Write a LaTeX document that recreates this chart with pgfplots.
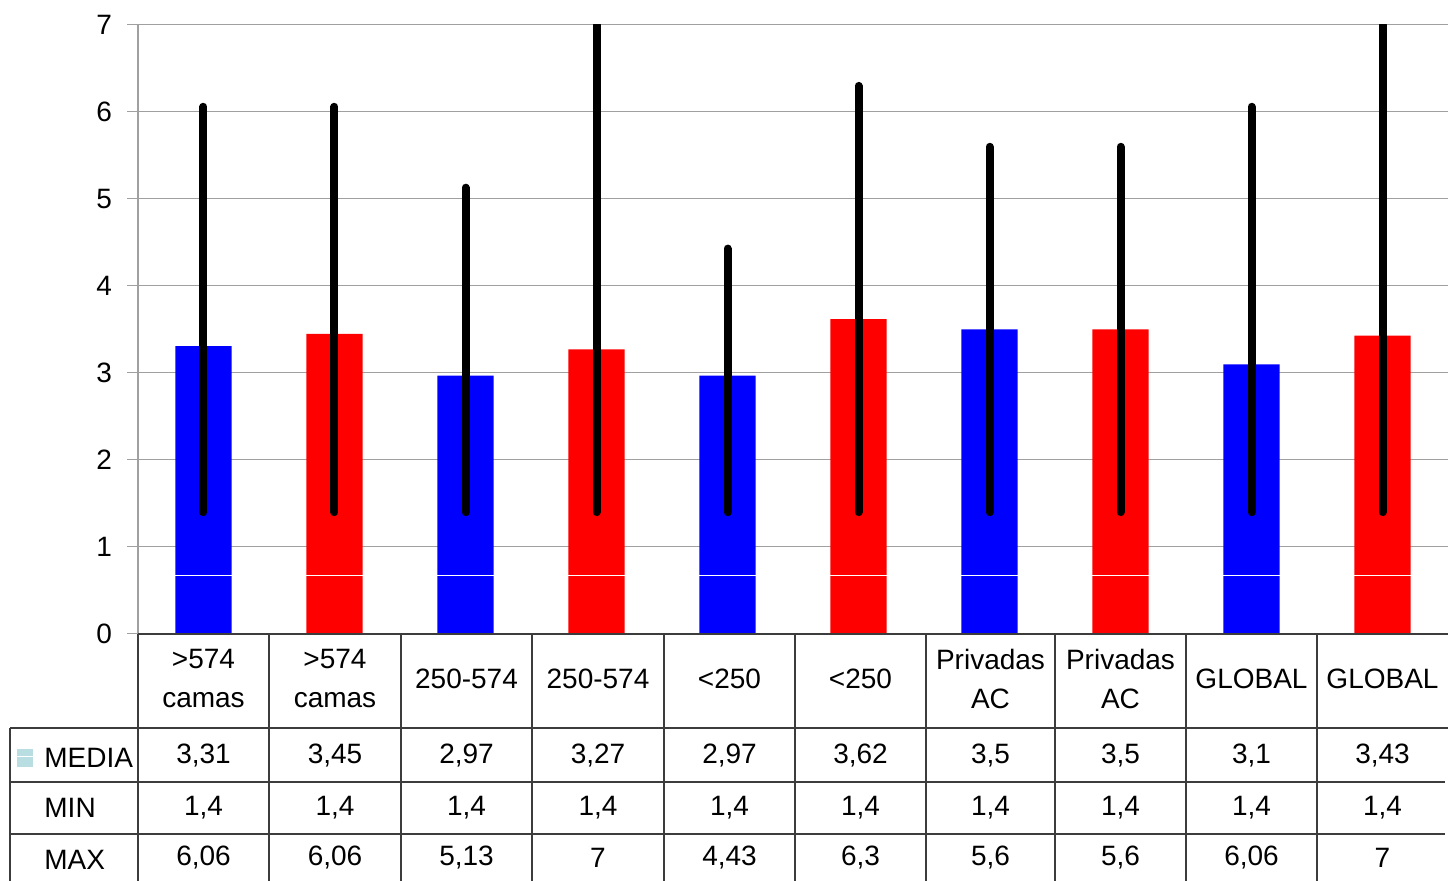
\documentclass[border=0pt]{standalone}
\usepackage{pgfplots}
\pgfplotsset{compat=1.18}
\usepackage{fontspec}
\setmainfont{Liberation Sans}
\definecolor{gridgray}{RGB}{160,160,160}
\definecolor{tabline}{RGB}{60,60,60}
\definecolor{legcol}{RGB}{185,222,226}
\begin{document}
\begin{tikzpicture}
\begin{axis}[
  name=ax,
  scale only axis,
  width=655pt, height=304.5pt,
  xmin=0, xmax=10, ymin=0, ymax=7,
  axis y line*=left, axis x line=none,
  xtick=\empty,
  ytick={0,1,2,3,4,5,6,7},
  ymajorgrids,
  grid style={gridgray, line width=0.5pt},
  y axis line style={gridgray, line width=0.6pt},
  ytick style={gridgray, line width=0.5pt},
  tick align=outside,
  major tick length=5.5pt,
  tick label style={font=\fontsize{14}{16}\selectfont},
  yticklabel style={xshift=-4pt},
  /pgf/number format/assume math mode=true,
  unbounded coords=jump,
  clip=true,
]
\addplot[ybar, bar width=0.43, bar shift=0pt, fill=blue, draw=none]
  coordinates {(0.5,3.31) (2.5,2.97) (4.5,2.97) (6.5,3.5) (8.5,3.1)};
\addplot[ybar, bar width=0.43, bar shift=0pt, fill=red, draw=none]
  coordinates {(1.5,3.45) (3.5,3.27) (5.5,3.62) (7.5,3.5) (9.5,3.43)};
\addplot[white, line width=0.6pt, forget plot] coordinates {
  (0.285,0.67) (0.715,0.67) (1,nan)
  (1.285,0.67) (1.715,0.67) (2,nan)
  (2.285,0.67) (2.715,0.67) (3,nan)
  (3.285,0.67) (3.715,0.67) (4,nan)
  (4.285,0.67) (4.715,0.67) (5,nan)
  (5.285,0.67) (5.715,0.67) (6,nan)
  (6.285,0.67) (6.715,0.67) (7,nan)
  (7.285,0.67) (7.715,0.67) (8,nan)
  (8.285,0.67) (8.715,0.67) (9,nan)
  (9.285,0.67) (9.715,0.67)};
\addplot[black, line width=4pt, line cap=round, forget plot] coordinates {
  (0.5,1.4) (0.5,6.06) (1,nan)
  (1.5,1.4) (1.5,6.06) (2,nan)
  (2.5,1.4) (2.5,5.13) (3,nan)
  (3.5,1.4) (3.5,7) (4,nan)
  (4.5,1.4) (4.5,4.43) (5,nan)
  (5.5,1.4) (5.5,6.3) (6,nan)
  (6.5,1.4) (6.5,5.6) (7,nan)
  (7.5,1.4) (7.5,5.6) (8,nan)
  (8.5,1.4) (8.5,6.06) (9,nan)
  (9.5,1.4) (9.5,7)};
\end{axis}
\begin{scope}[shift={(ax.south west)}, x=0.5pt, y=-0.5pt,
  every node/.style={font=\fontsize{14}{19.5}\selectfont, inner sep=0pt}]
  % horizontal lines
  \draw[tabline, line width=0.7pt] (0,0) -- (1310,0);
  \draw[tabline, line width=0.7pt] (-128,94) -- (1310,94);
  \draw[tabline, line width=0.7pt] (-128,148) -- (1307,148);
  \draw[tabline, line width=0.7pt] (-128,200) -- (1307,200);
  % vertical lines
  \draw[tabline, line width=0.7pt] (-128,94) -- (-128,247);
  \foreach \c in {0,131,263,394,526,657,788,917,1048,1179} {
    \draw[tabline, line width=0.7pt] (\c,0) -- (\c,247);
  }
  % legend marker
  \fill[legcol] (-121,115) rectangle (-105,133);
  \draw[white, line width=0.5pt] (-121,123) -- (-105,123);
  % row labels
  \node[anchor=west] at (-94,124) {MEDIA};
  \node[anchor=west] at (-94,174) {MIN};
  \node[anchor=west] at (-94,226) {MAX};
  % header
  \node[align=center] at (65.5,45) {>574\\camas};
  \node[align=center] at (197,45) {>574\\camas};
  \node at (328.5,45) {250-574};
  \node at (460,45) {250-574};
  \node at (591.5,45) {<250};
  \node at (722.5,45) {<250};
  \node[align=center] at (852.5,45) {Privadas\\AC};
  \node[align=center] at (982.5,45) {Privadas\\AC};
  \node at (1113.5,45) {GLOBAL};
  \node at (1244.5,45) {GLOBAL};
  % values
  \foreach \x/\v in {65.5/{3,31},197/{3,45},328.5/{2,97},460/{3,27},591.5/{2,97},722.5/{3,62},852.5/{3,5},982.5/{3,5},1113.5/{3,1},1244.5/{3,43}}
    \node at (\x,122) {\v};
  \foreach \x in {65.5,197,328.5,460,591.5,722.5,852.5,982.5,1113.5,1244.5}
    \node at (\x,174) {1,4};
  \foreach \x/\v in {65.5/{6,06},197/{6,06},328.5/{5,13},460/{7},591.5/{4,43},722.5/{6,3},852.5/{5,6},982.5/{5,6},1113.5/{6,06},1244.5/{7}}
    \node at (\x,224) {\v};
  \pgfresetboundingbox
  \path (-138,-634) rectangle (1310,247);
\end{scope}
\end{tikzpicture}
\end{document}
